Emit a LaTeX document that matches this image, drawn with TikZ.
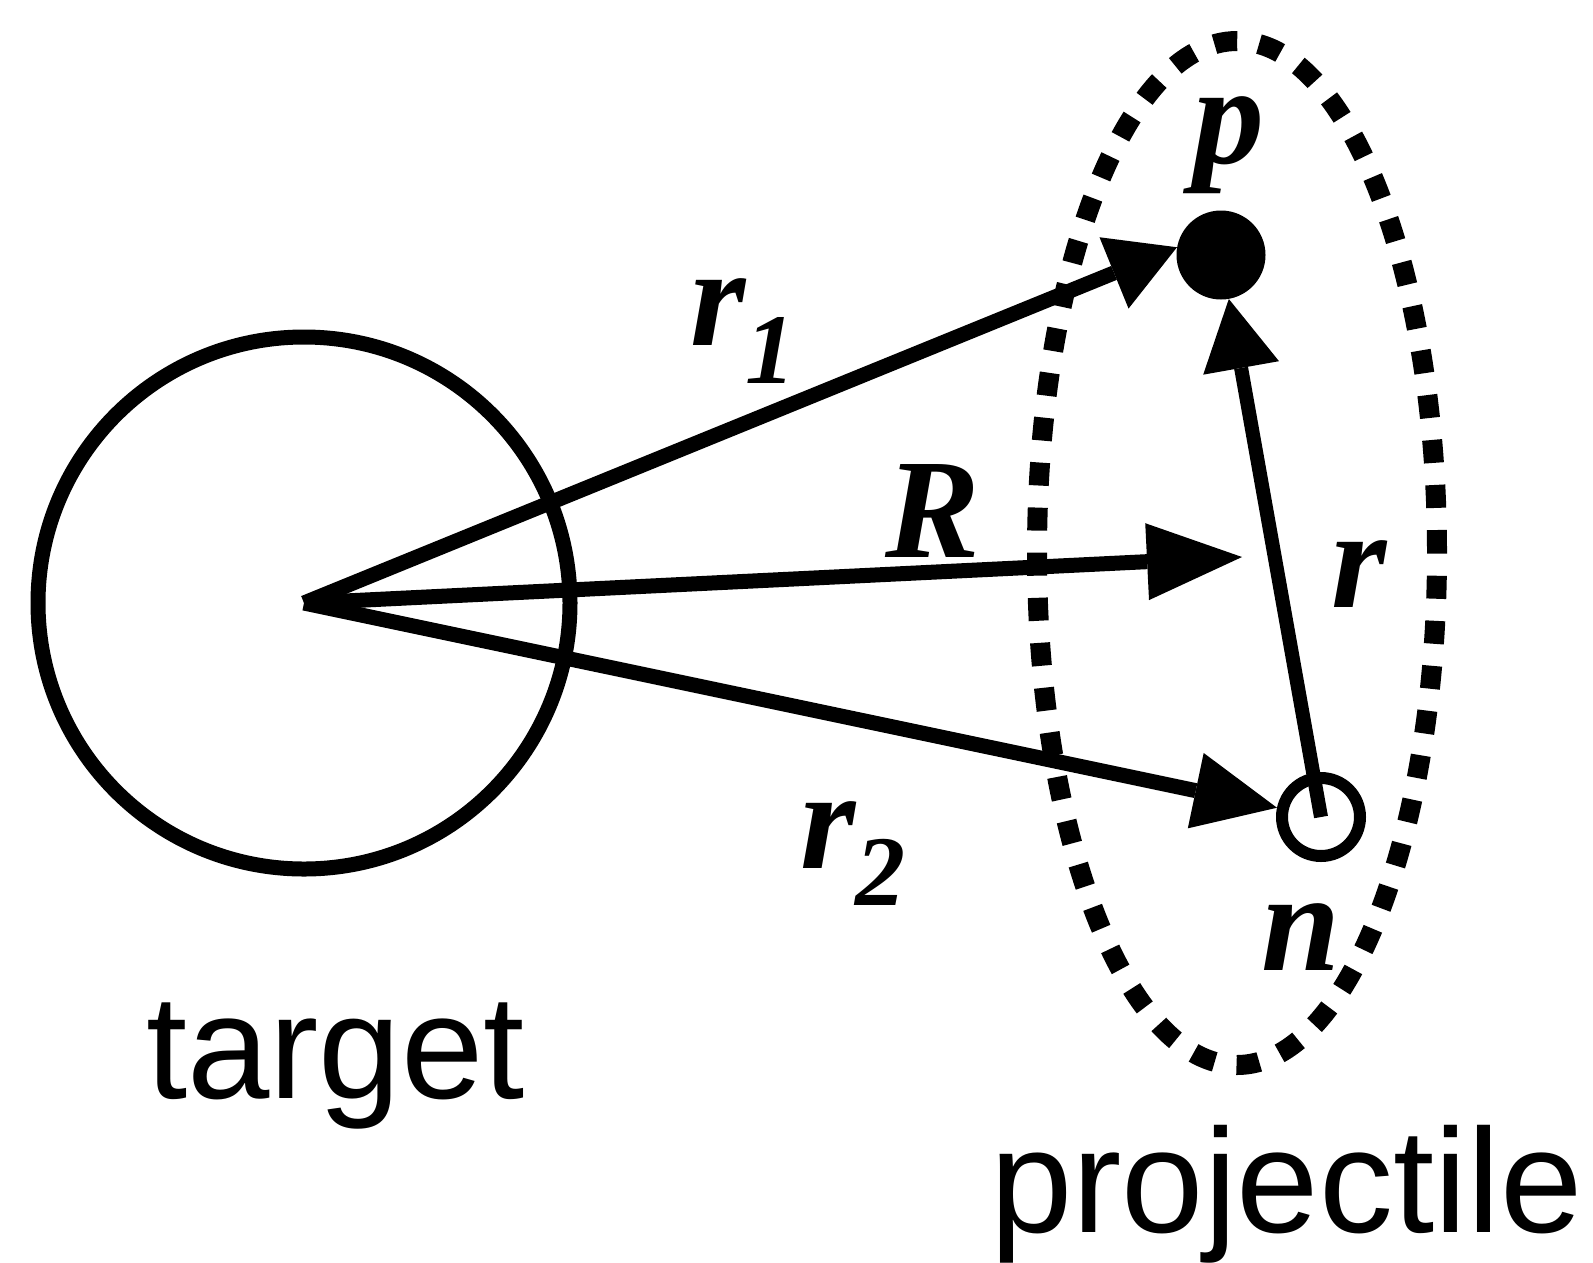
\documentclass[tikz,border=0pt]{standalone}
\usepackage{fontspec}
\setmainfont{Liberation Serif}
\setsansfont{Liberation Sans}
\usetikzlibrary{arrows.meta}
\begin{document}
\begin{tikzpicture}[x=1pt,y=-1pt,
  vec/.style={line width=15pt},
  lbl/.style={font=\fontsize{142}{142}\selectfont\bfseries\itshape, inner sep=0pt, anchor=base west},
  word/.style={font=\fontsize{148}{148}\selectfont\sffamily, inner sep=0pt, anchor=base west},
  dotted ellipse/.style={line width=20pt, dash pattern=on 23pt off 22.1pt},
]
\useasboundingbox (0,0) rectangle (1593,1262);
% projectile boundary
\draw[dotted ellipse] (1237,553) ellipse [x radius=200pt, y radius=512pt];
% target
\coordinate (O) at (304,603);
\node[draw, circle, line width=15pt, minimum size=532pt, inner sep=0pt] (tgt) at (O) {};
% particles
\node[circle, fill, minimum size=89pt, inner sep=0pt] (p) at (1221,255) {};
\node[circle, draw, line width=12pt, minimum size=78pt, inner sep=0pt] (n) at (1321,817) {};
\coordinate (Rend) at (1242,557);
% vectors
\draw[vec, -{Triangle[length=68pt,width=77pt,line width=0pt]}] (O) -- (p.170);
\draw[vec, -{Triangle[length=95pt,width=77pt,line width=0pt]}] (O) -- (Rend);
\draw[vec, -{Triangle[length=83pt,width=77pt,line width=0pt]}] (O) -- (n);
\draw[line width=14pt, -{Triangle[length=70pt,width=77pt,line width=0pt]}] (n.center) -- (p);
% labels
\node[lbl] (lr1) at (690,345) {r\raisebox{-38pt}{\fontsize{100}{100}\selectfont 1}};
\node[lbl] (lR) at (885,557) {R};
\node[lbl] (lr2) at (800,868) {r\raisebox{-37pt}{\fontsize{100}{100}\selectfont 2}};
\node[lbl, anchor=base] (lp) at (1229,163) {p};
\node[lbl, anchor=base] (ln) at (1301,970) {n};
\node[lbl, anchor=base] (lr) at (1359,607) {r};
\node[word] (tg) at (146,1098) {target};
\node[word] (pj) at (990,1232) {projectile};
\end{tikzpicture}
\end{document}
